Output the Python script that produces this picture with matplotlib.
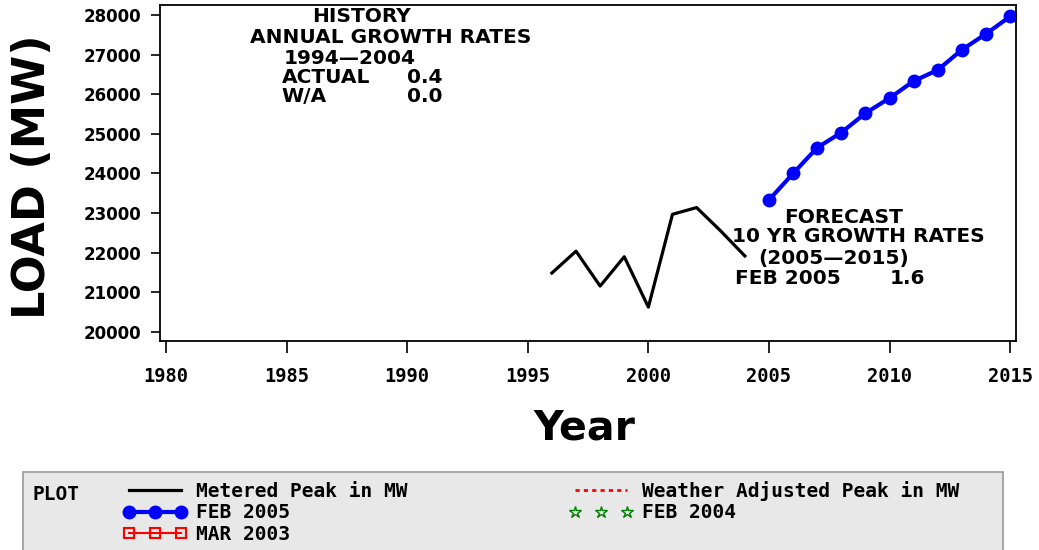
import matplotlib
matplotlib.use("Agg")
import matplotlib.pyplot as plt
from matplotlib.patches import Rectangle

# data
hist_years = [1996, 1997, 1998, 1999, 2000, 2001, 2002, 2003, 2004]
metered = [21490, 22040, 21160, 21900, 20630, 22970, 23140, 22550, 21920]
fcst_years = [2005, 2006, 2007, 2008, 2009, 2010, 2011, 2012, 2013, 2014, 2015]
feb2005 = [23330, 24000, 24650, 25030, 25520, 25900, 26330, 26610, 27120, 27520, 27960]

x_ticks = [1980, 1985, 1990, 1995, 2000, 2005, 2010, 2015]
y_ticks = [20000, 21000, 22000, 23000, 24000, 25000, 26000, 27000, 28000]

fig = plt.figure(figsize=(10.39, 5.5), dpi=100)
ax = fig.add_axes([0.154, 0.38, 0.824, 0.611])

# legend background box
fig.patches.append(Rectangle((23/1039, -0.05), 980/1039, 1 - 472/550 + 0.05,
                             transform=fig.transFigure, facecolor="#e8e8e8",
                             edgecolor="#999999", lw=1.2, zorder=0))

ax.plot(hist_years, metered, color="black", lw=2.3, label="Metered Peak in MW")
ax.plot(fcst_years, feb2005, color="#0000ff", lw=3, marker="o", ms=9,
        label="FEB 2005")
# series listed in the legend but without data in view
ax.plot([], [], color="red", lw=1.5, marker="s", ms=7, mfc="none", mew=1.5,
        label="MAR 2003")
ax.plot([], [], color="red", lw=2, ls=(0, (1.5, 1.5)),
        label="Weather Adjusted Peak in MW")
ax.plot([], [], color="green", lw=0, marker="*", ms=9, mfc="none", mew=1,
        label="FEB 2004")

ax.set_xlim(1979.75, 2015.25)
ax.set_ylim(19775, 28250)
ax.set_xticks(x_ticks)
ax.set_yticks(y_ticks)
ax.tick_params(axis="x", direction="out", length=8.5, width=1.2, pad=10)
ax.tick_params(axis="y", direction="out", length=6.5, width=1.2, pad=7)
for lab in ax.get_xticklabels():
    lab.set_fontfamily("DejaVu Sans Mono")
    lab.set_fontweight("bold")
    lab.set_fontsize(13.5)
for lab in ax.get_yticklabels():
    lab.set_fontweight("bold")
    lab.set_fontsize(12)
for sp in ax.spines.values():
    sp.set_linewidth(1.3)

ax.set_xlabel("Year", fontsize=29.5, fontweight="bold")
ax.xaxis.set_label_coords(0.496, -0.26)
ax.xaxis.label.set_va("center")
ax.set_ylabel("LOAD (MW)", fontsize=32, fontweight="bold")
ax.yaxis.set_label_coords(-0.149, 0.49)
ax.yaxis.label.set_va("center")

# annotation blocks
tk = dict(fontsize=14.5, fontweight="bold", va="center")
ax.text(1988.1, 27950, "HISTORY", ha="center", **tk)
ax.text(1989.3, 27420, "ANNUAL GROWTH RATES", ha="center", **tk)
ax.text(1987.6, 26910, "1994\u20142004", ha="center", **tk)
ax.text(1984.8, 26430, "ACTUAL", ha="left", **tk)
ax.text(1990.0, 26430, "0.4", ha="left", **tk)
ax.text(1984.8, 25930, "W/A", ha="left", **tk)
ax.text(1990.0, 25930, "0.0", ha="left", **tk)

ax.text(2008.1, 22880, "FORECAST", ha="center", **tk)
ax.text(2008.7, 22400, "10 YR GROWTH RATES", ha="center", **tk)
ax.text(2007.7, 21860, "(2005\u20142015)", ha="center", **tk)
ax.text(2003.6, 21360, "FEB 2005", ha="left", **tk)
ax.text(2010.0, 21360, "1.6", ha="left", **tk)

# legend
handles, labels = ax.get_legend_handles_labels()
leg = fig.legend(handles, labels, loc="upper left",
                 bbox_to_anchor=(123/1039, 1 - 481/550), ncol=2,
                 frameon=False, numpoints=3, handlelength=3.3,
                 handletextpad=0.45, columnspacing=8.3, labelspacing=0.12,
                 borderpad=0, borderaxespad=0,
                 prop=dict(family="DejaVu Sans Mono", weight="bold", size=14))
fig.text(33/1039, 1 - 495/550, "PLOT", fontsize=14, fontweight="bold",
         family="DejaVu Sans Mono", va="center", ha="left")

fig.savefig("out.png", dpi=100)
